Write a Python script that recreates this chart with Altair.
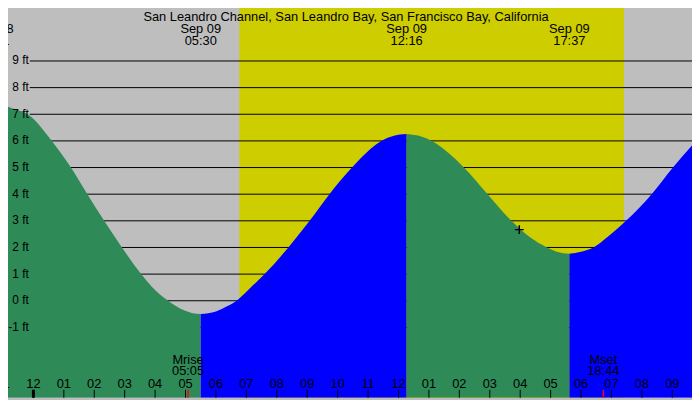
"""Tide chart for San Leandro Channel, Sep 09."""

import altair as alt
import pandas as pd

# tide heights: hours from midnight Sep 09, feet
fall1_hours = [-1.317, -1.095, -0.61, -0.185, 0.604, 1.235, 1.774, 2.326, 2.911, 3.541, 3.89, 4.428, 4.97, 5.2, 5.5]
fall1_feet = [7.43, 7.37, 7.19, 7.0, 6.0, 5.0, 4.0, 3.0, 2.0, 1.0, 0.53, 0.0, -0.37, -0.46, -0.50]
rise1_hours = [5.5, 6.0, 6.38, 6.68, 7.1, 7.6, 8.38, 9.08, 9.73, 10.47, 11.44, 11.85, 12.267]
rise1_feet = [-0.50, -0.40, -0.20, 0.0, 0.45, 1.0, 2.0, 3.0, 4.0, 5.0, 6.0, 6.19, 6.26]
fall2_hours = [12.267, 12.77, 13.1, 13.85, 14.15, 14.93, 15.71, 16.3, 16.88, 17.2, 17.617]
fall2_feet = [6.26, 6.16, 6.0, 5.34, 5.0, 4.0, 3.0, 2.40, 2.0, 1.84, 1.76]
rise2_hours = [17.617, 18.0, 18.40, 18.9, 19.48, 20.32, 21.02, 21.65]
rise2_feet = [1.76, 1.84, 2.0, 2.42, 3.0, 4.0, 5.0, 5.83]

# daylight, from sunrise to sunset
day_start = 6.77
day_end = 19.41

# high / low tide labels along the top
extreme_hours = [-1.317, 5.5, 12.267, 17.617]
extreme_dates = ["Sep 08", "Sep 09", "Sep 09", "Sep 09"]
extreme_times = ["22:41", "05:30", "12:16", "17:37"]

# moon rise / set
moon_hours = [5.083, 18.733]
moon_names = ["Mrise", "Mset"]
moon_times = ["05:05", "18:44"]

# current position marker
now_hour = 15.97
now_feet = 2.67

grid_feet = [-1, 0, 1, 2, 3, 4, 5, 6, 7, 8, 9]
grid_labels = ["-1 ft", "0 ft", "1 ft", "2 ft", "3 ft", "4 ft", "5 ft", "6 ft", "7 ft", "8 ft", "9 ft"]

hour_ticks = list(range(-1, 22))
hour_labels = ["11", "12", "01", "02", "03", "04", "05", "06", "07", "08", "09", "10", "11",
               "12", "01", "02", "03", "04", "05", "06", "07", "08", "09"]

TITLE = "San Leandro Channel, San Leandro Bay, San Francisco Bay, California"

GRAY = "#bebebe"
YELLOW = "#cdcd00"
GREEN = "#2e8b57"
BLUE = "#0000ff"
FONT = "Liberation Sans"

X_MIN, X_MAX = -1.095, 21.647
Y_MIN, Y_MAX = -3.64, 11.20

x_scale = alt.Scale(domain=[X_MIN, X_MAX], nice=False, zero=False)
y_scale = alt.Scale(domain=[Y_MIN, Y_MAX], nice=False, zero=False)


def tide_frame() -> pd.DataFrame:
    """Assembler les segments montants / descendants."""

    segments = [
        ("falling", fall1_hours, fall1_feet),
        ("rising", rise1_hours, rise1_feet),
        ("falling", fall2_hours, fall2_feet),
        ("rising", rise2_hours, rise2_feet),
    ]
    rows = []
    for seg, (phase, hours, feet) in enumerate(segments):
        for h, f in zip(hours, feet):
            rows.append({"seg": seg, "phase": phase, "hour": h, "feet": f, "base": Y_MIN})
    return pd.DataFrame(rows)


def text_layer(df, field, y, size=13, **kw):
    return alt.Chart(df).mark_text(font=FONT, fontSize=size, color="black", baseline="alphabetic", **kw).encode(
        x=alt.X("hour:Q", scale=x_scale, axis=None),
        y=alt.value(y),
        text=f"{field}:N",
    )


day = (
    alt.Chart(pd.DataFrame({"start": [day_start], "end": [day_end]}))
    .mark_rect(color=YELLOW)
    .encode(
        x=alt.X("start:Q", scale=x_scale, axis=None),
        x2="end:Q",
        y=alt.value(0),
        y2=alt.value(400),
    )
)

grid_df = pd.DataFrame({"ft": grid_feet, "label": grid_labels})
grid = (
    alt.Chart(grid_df)
    .mark_rule(color="black", strokeWidth=1)
    .encode(
        y=alt.Y("ft:Q", scale=y_scale, axis=None),
        x=alt.value(30),
        x2=alt.value(700),
    )
)
grid_text = (
    alt.Chart(grid_df)
    .mark_text(font=FONT, fontSize=12, color="black", align="right", baseline="alphabetic", dy=3.5)
    .encode(
        y=alt.Y("ft:Q", scale=y_scale, axis=None),
        x=alt.value(29),
        text="label:N",
    )
)

tide = (
    alt.Chart(tide_frame())
    .mark_area(interpolate="monotone", clip=True)
    .encode(
        x=alt.X("hour:Q", scale=x_scale, axis=None),
        y=alt.Y("feet:Q", scale=y_scale, axis=None),
        y2="base:Q",
        color=alt.Color(
            "phase:N",
            scale=alt.Scale(domain=["falling", "rising"], range=[GREEN, BLUE]),
            legend=None,
        ),
        detail="seg:N",
    )
)

hours_df = pd.DataFrame({"hour": hour_ticks, "label": hour_labels})
ticks = (
    alt.Chart(hours_df)
    .mark_rule(color="black", strokeWidth=1)
    .encode(x=alt.X("hour:Q", scale=x_scale, axis=None), y=alt.value(392), y2=alt.value(400))
)
midnight = (
    alt.Chart(pd.DataFrame({"hour": [0]}))
    .mark_rule(color="black", strokeWidth=3)
    .encode(x=alt.X("hour:Q", scale=x_scale, axis=None), y=alt.value(392), y2=alt.value(400))
)
hour_text = text_layer(hours_df, "label", 390)

moon_df = pd.DataFrame({"hour": moon_hours, "name": moon_names, "time": moon_times})
moon_ticks = (
    alt.Chart(moon_df)
    .mark_rule(color="red", strokeWidth=1.5)
    .encode(x=alt.X("hour:Q", scale=x_scale, axis=None), y=alt.value(392), y2=alt.value(400))
)
moon_name = text_layer(moon_df, "name", 366)
moon_time = text_layer(moon_df, "time", 377.5)

ext_df = pd.DataFrame({"hour": extreme_hours, "date": extreme_dates, "time": extreme_times})
ext_date = text_layer(ext_df, "date", 31)
ext_time = text_layer(ext_df, "time", 43)

title = (
    alt.Chart(pd.DataFrame({"t": [TITLE]}))
    .mark_text(font=FONT, fontSize=13, color="black", baseline="alphabetic")
    .encode(x=alt.value(350), y=alt.value(19), text="t:N")
)

now = (
    alt.Chart(pd.DataFrame({"hour": [now_hour], "feet": [now_feet]}))
    .mark_point(shape="M-1,0L1,0M0,-1L0,1", filled=False, size=81, strokeWidth=1.5, color="black", opacity=1)
    .encode(
        x=alt.X("hour:Q", scale=x_scale, axis=None),
        y=alt.Y("feet:Q", scale=y_scale, axis=None),
    )
)

chart = (
    alt.layer(
        day, grid, tide, grid_text, ticks, midnight, moon_ticks,
        hour_text, moon_name, moon_time, ext_date, ext_time, title, now,
    )
    .properties(
        width=700,
        height=400,
        background=GRAY,
        padding={"left": -8, "top": -8, "right": 0, "bottom": 0},
        autosize=alt.AutoSizeParams(type="none"),
    )
    .configure_view(strokeWidth=0)
)

chart.save("out.html", embed_options={"renderer": "svg", "actions": False})
